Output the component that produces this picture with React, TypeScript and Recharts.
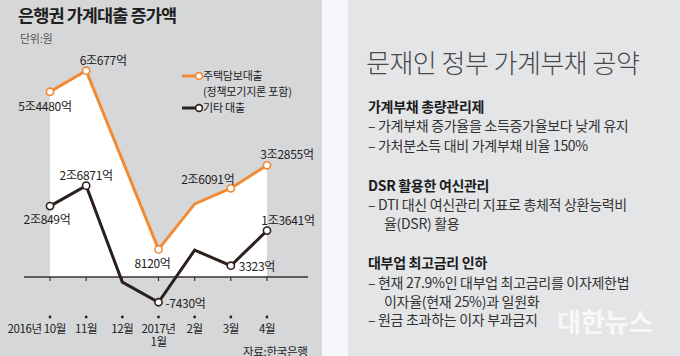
import { ComposedChart, Area, Line, XAxis, YAxis, ReferenceLine, LabelList } from "recharts";

const months = ["10월", "11월", "12월", "1월", "2월", "3월", "4월"];
const tickLines = [["2016년 10월"], ["11월"], ["12월"], ["2017년", "1월"], ["2월"], ["3월"], ["4월"]];

// 조 원 단위
const mortgage = [5.448, 6.0677, 3.44, 0.812, 2.15, 2.6091, 3.2855];
const otherLoans = [2.0849, 2.6871, -0.15, -0.743, 0.79, 0.3323, 1.3641];

const mortgageLabels = ["5조4480억", "6조677억", "", "8120억", "", "2조6091억", "3조2855억"];
const otherLabels = ["2조849억", "2조6871억", "", "-7430억", "", "3323억", "1조3641억"];

const data = months.map((m, i) => ({ month: m, mortgage: mortgage[i], other: otherLoans[i] }));

const ORANGE = "#f28a33";
const DARK = "#2b201c";
const FONT = "'Noto Sans CJK KR', 'Noto Sans', sans-serif";

// label placement relative to the point
const mortgageOffsets: Record<number, { dx: number; dy: number; anchor?: string }> = {
  0: { dx: -5, dy: 14 },
  1: { dx: 17, dy: -11 },
  3: { dx: -6, dy: 13 },
  5: { dx: -23, dy: -10 },
  6: { dx: 20, dy: -12 },
};
const otherOffsets: Record<number, { dx: number; dy: number; anchor?: string }> = {
  0: { dx: -3, dy: 12 },
  1: { dx: 0, dy: -11 },
  3: { dx: 7, dy: 0, anchor: "start" },
  5: { dx: 8, dy: 0, anchor: "start" },
  6: { dx: 21, dy: -11 },
};

const makeDot = (labels: string[], color: string) => (props: any) => {
  const { cx, cy, index } = props;
  if (!labels[index]) return <g key={`d-${color}-${index}`} />;
  return <circle key={`d-${color}-${index}`} cx={cx} cy={cy} r={3.6} fill="#fff" stroke={color} strokeWidth={1.6} />;
};

const makeLabel = (labels: string[], offsets: typeof mortgageOffsets) => (props: any) => {
  const { x, y, index } = props;
  const text = labels[index];
  const o = offsets[index];
  if (!text || !o) return null;
  return (
    <text
      x={x + o.dx}
      y={y + o.dy}
      textAnchor={o.anchor || "middle"}
      dominantBaseline="central"
      fontSize={12}
      fontFamily={FONT}
      fill="#222"
      letterSpacing={-0.3}
    >
      {text}
    </text>
  );
};

const MonthTick = (props: any) => {
  const { x, y, index } = props;
  const lines = tickLines[index] || [];
  const first = index === 0;
  return (
    <g>
      <circle cx={x} cy={y + 6} r={1.4} fill="#222" />
      {lines.map((t, i) => (
        <text
          key={i}
          x={first ? x + 16 : x}
          y={y + 22 + i * 13}
          textAnchor={first ? "end" : "middle"}
          fontSize={11.5}
          fontFamily={FONT}
          fill="#222"
          letterSpacing={-0.4}
        >
          {t}
        </text>
      ))}
    </g>
  );
};

const rightLines = [
  { text: "가계부채 총량관리제", y: 106, bold: true, x: 368 },
  { text: "– 가계부채 증가율을 소득증가율보다 낮게 유지", y: 125, x: 368 },
  { text: "– 가처분소득 대비 가계부채 비율 150%", y: 145, x: 368 },
  { text: "DSR 활용한 여신관리", y: 185, bold: true, x: 368 },
  { text: "– DTI 대신 여신관리 지표로 총체적 상환능력비", y: 204, x: 368 },
  { text: "율(DSR) 활용", y: 223, x: 384 },
  { text: "대부업 최고금리 인하", y: 262, bold: true, x: 368 },
  { text: "– 현재 27.9%인 대부업 최고금리를 이자제한법", y: 282, x: 368 },
  { text: "이자율(현재 25%)과 일원화", y: 301, x: 384 },
  { text: "– 원금 초과하는 이자 부과금지", y: 319, x: 368 },
];

export default function App() {
  return (
    <div
      style={{
        position: "absolute",
        left: 0,
        top: 0,
        width: 680,
        height: 356,
        overflow: "hidden",
        background: "#f5f7fa",
        fontFamily: FONT,
      }}
    >
      {/* left panel */}
      <div style={{ position: "absolute", left: 0, top: 0, width: 322, height: 356, background: "#d5d7d9" }} />
      <div style={{ position: "absolute", left: 18, top: 4, fontSize: 17.5, fontWeight: 700, color: "#1e1e1e", letterSpacing: -0.9, lineHeight: "22px" }}>
        은행권 가계대출 증가액
      </div>
      <div style={{ position: "absolute", left: 20, top: 31, fontSize: 11, color: "#555", lineHeight: "14px", letterSpacing: -0.3 }}>
        단위:원
      </div>

      <div style={{ position: "absolute", left: 0, top: 0 }}>
        <ComposedChart width={322} height={356} data={data} margin={{ top: 39, right: 14, left: 24, bottom: 0 }}>
          <XAxis
            dataKey="month"
            height={45}
            axisLine={false}
            tickLine={false}
            tickSize={0}
            tickMargin={0}
            interval={0}
            padding={{ left: 26, right: 41 }}
            tick={(p: any) => <MonthTick {...p} />}
          />
          <YAxis hide width={0} type="number" domain={[-1, 7]} />
          <Area
            type="linear"
            dataKey="mortgage"
            baseValue={0}
            fill="#ffffff"
            fillOpacity={1}
            stroke="none"
            dot={false}
            activeDot={false}
            isAnimationActive={false}
          />
          <ReferenceLine y={0} stroke="#3b322e" strokeWidth={1.5} />
          {months.map((m) => (
            <ReferenceLine
              key={m}
              segment={[
                { x: m, y: 0 },
                { x: m, y: -0.12 },
              ]}
              stroke="#3b322e"
              strokeWidth={1.2}
            />
          ))}
          <Line
            type="linear"
            dataKey="other"
            stroke={DARK}
            strokeWidth={3}
            dot={makeDot(otherLabels, DARK)}
            activeDot={false}
            isAnimationActive={false}
          >
            <LabelList dataKey="other" content={makeLabel(otherLabels, otherOffsets)} />
          </Line>
          <Line
            type="linear"
            dataKey="mortgage"
            stroke={ORANGE}
            strokeWidth={3}
            dot={makeDot(mortgageLabels, ORANGE)}
            activeDot={false}
            isAnimationActive={false}
          >
            <LabelList dataKey="mortgage" content={makeLabel(mortgageLabels, mortgageOffsets)} />
          </Line>
        </ComposedChart>
      </div>

      {/* legend */}
      <svg style={{ position: "absolute", left: 178, top: 68 }} width={30} height={48}>
        <line x1={4} y1={8} x2={20} y2={8} stroke={ORANGE} strokeWidth={3} />
        <circle cx={21} cy={8} r={3.4} fill="#fff" stroke={ORANGE} strokeWidth={1.6} />
        <line x1={4} y1={40} x2={20} y2={40} stroke={DARK} strokeWidth={3} />
        <circle cx={21} cy={40} r={3.4} fill="#fff" stroke={DARK} strokeWidth={1.6} />
      </svg>
      <div style={{ position: "absolute", left: 203, top: 69, fontSize: 11, lineHeight: "13px", color: "#222", letterSpacing: -0.2 }}>
        주택담보대출
      </div>
      <div style={{ position: "absolute", left: 203, top: 85, fontSize: 11, lineHeight: "13px", color: "#222", letterSpacing: -0.2 }}>
        (정책모기지론 포함)
      </div>
      <div style={{ position: "absolute", left: 203, top: 101, fontSize: 11, lineHeight: "13px", color: "#222", letterSpacing: -0.2 }}>
        기타 대출
      </div>

      <div style={{ position: "absolute", left: 243, top: 344, fontSize: 11.5, lineHeight: "14px", color: "#222", letterSpacing: -0.3 }}>
        자료:한국은행
      </div>

      {/* right panel */}
      <div style={{ position: "absolute", left: 348, top: 0, width: 332, height: 356, background: "#e3e5e7" }} />
      <div style={{ position: "absolute", left: 366, top: 47, fontSize: 26, fontWeight: 300, color: "#4a4a4a", lineHeight: "30px", letterSpacing: -0.5 }}>
        문재인 정부 가계부채 공약
      </div>
      {rightLines.map((l) => (
        <div
          key={l.text}
          style={{
            position: "absolute",
            left: l.x,
            top: l.y - 9,
            fontSize: 14,
            lineHeight: "18px",
            fontWeight: l.bold ? 700 : 400,
            color: l.bold ? "#1c1c1c" : "#333",
            letterSpacing: -0.3,
            whiteSpace: "nowrap",
          }}
        >
          {l.text}
        </div>
      ))}
      <div style={{ position: "absolute", left: 557, top: 305, fontSize: 26, fontWeight: 700, color: "#ffffff", opacity: 0.75, lineHeight: "32px", letterSpacing: 0 }}>
        대한뉴스
      </div>
    </div>
  );
}
